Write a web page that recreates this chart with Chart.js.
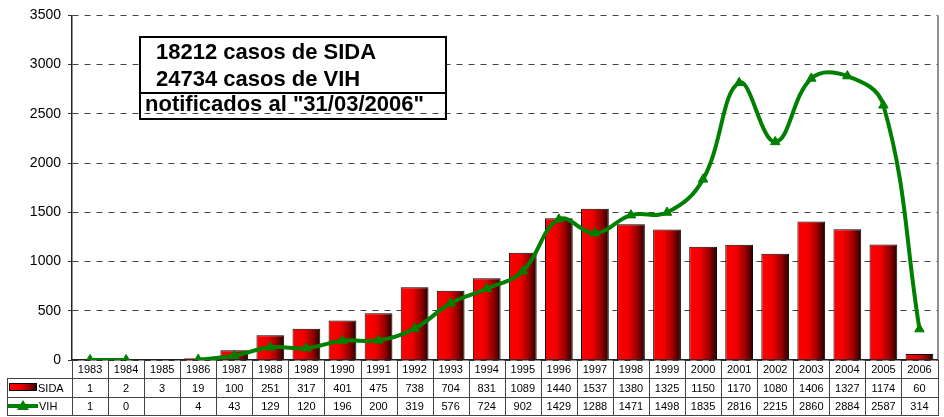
<!DOCTYPE html>
<html>
<head>
<meta charset="utf-8">
<script src="https://cdn.jsdelivr.net/npm/chart.js@4/dist/chart.umd.min.js"></script>
<style>
html,body{margin:0;padding:0;background:#fff;}
#wrap{width:944px;height:417px;position:relative;}
</style>
</head>
<body>
<div id="wrap"><canvas id="c" width="944" height="417"></canvas></div>
<script>
const years = ['1983','1984','1985','1986','1987','1988','1989','1990','1991','1992','1993','1994','1995','1996','1997','1998','1999','2000','2001','2002','2003','2004','2005','2006'];
const sida = [1,2,3,19,100,251,317,401,475,738,704,831,1089,1440,1537,1380,1325,1150,1170,1080,1406,1327,1174,60];
const vih = [1,0,null,4,43,129,120,196,200,319,576,724,902,1429,1288,1471,1498,1835,2816,2215,2860,2884,2587,314];
const seriesNames = ['SIDA','VIH'];
const boxLines = ['18212 casos de SIDA','24734 casos de VIH','notificados al "31/03/2006"'];
const yTicks = [0,500,1000,1500,2000,2500,3000,3500];

const FONT = '"Liberation Sans", Arial, sans-serif';
const GREEN = '#008000';
const BAR_FRAC = 0.77;

function barGradient(ctx, x0, x1){
  const g = ctx.createLinearGradient(x0,0,x1,0);
  g.addColorStop(0,'#ff0000');
  g.addColorStop(0.4,'#f00000');
  g.addColorStop(0.7,'#a00000');
  g.addColorStop(1,'#250000');
  return g;
}

const tablePlugin = {
  id:'table',
  afterDraw(chart){
    const ctx = chart.ctx;
    const xs = chart.scales.x;
    const a = chart.chartArea;
    const colW = (a.right - a.left)/years.length;
    const yTop = a.bottom, r1 = 378, r2 = 397, r3 = 415, legL = 7;
    ctx.save();
    // right border of plot
    ctx.strokeStyle = '#222'; ctx.lineWidth = 1;
    ctx.beginPath(); ctx.moveTo(a.right+0.5, a.top); ctx.lineTo(a.right+0.5, a.bottom); ctx.stroke();
    // table grid
    ctx.strokeStyle = '#444'; ctx.lineWidth = 1;
    ctx.beginPath();
    for(let i=0;i<=years.length;i++){
      const x = Math.round(a.left + i*colW)+0.5;
      ctx.moveTo(x, yTop); ctx.lineTo(x, r3);
    }
    ctx.moveTo(legL+0.5, r1); ctx.lineTo(legL+0.5, r3);
    [r1,r2,r3].forEach(y=>{ctx.moveTo(legL, y+0.5); ctx.lineTo(Math.round(a.right)+1, y+0.5);});
    ctx.stroke();
    // texts
    ctx.fillStyle = '#000';
    ctx.font = '11px ' + FONT;
    ctx.textAlign = 'center'; ctx.textBaseline = 'middle';
    years.forEach((y,i)=>{
      const x = xs.getPixelForValue(i);
      ctx.fillText(y, x, (yTop+r1)/2+1);
      ctx.fillText(String(sida[i]), x, (r1+r2)/2+1);
      if(vih[i]!==null) ctx.fillText(String(vih[i]), x, (r2+r3)/2+1);
    });
    // legend keys
    ctx.textAlign = 'left';
    ctx.fillText(seriesNames[0], 38, (r1+r2)/2+1);
    ctx.fillText(seriesNames[1], 39, (r2+r3)/2+1);
    ctx.fillStyle = barGradient(ctx, 9, 37);
    ctx.fillRect(9.5, 383.5, 27, 7);
    ctx.strokeStyle = '#000';
    ctx.strokeRect(9.5, 383.5, 27, 7);
    const ly = (r2+r3)/2;
    ctx.strokeStyle = GREEN; ctx.lineWidth = 4;
    ctx.beginPath(); ctx.moveTo(8, ly); ctx.lineTo(38, ly); ctx.stroke();
    ctx.fillStyle = GREEN;
    ctx.beginPath(); ctx.moveTo(23, ly-6); ctx.lineTo(29, ly+4); ctx.lineTo(17, ly+4); ctx.closePath(); ctx.fill();
    // annotation box
    ctx.fillStyle = '#fff';
    ctx.fillRect(140, 37, 306, 56);
    ctx.strokeStyle = '#000'; ctx.lineWidth = 2;
    ctx.strokeRect(140, 37, 306, 56);
    ctx.strokeRect(140, 93, 306, 26);
    ctx.fillStyle = '#000';
    ctx.font = 'bold 22px ' + FONT;
    ctx.textAlign = 'left'; ctx.textBaseline = 'alphabetic';
    ctx.fillText(boxLines[0], 156, 59);
    ctx.fillText(boxLines[1], 156, 86);
    ctx.fillText(boxLines[2], 145, 111);
    ctx.restore();
  }
};

new Chart(document.getElementById('c'), {
  data:{
    labels: years,
    datasets:[
      {
        type:'line', label:seriesNames[1], data:vih, order:0,
        borderColor:GREEN, borderWidth:4, tension:0.4, spanGaps:false,
        pointStyle:'triangle', pointRadius:5.5, pointBackgroundColor:GREEN, pointBorderColor:GREEN, pointBorderWidth:1
      },
      {
        type:'bar', label:seriesNames[0], data:sida, order:1,
        categoryPercentage:0.8, barPercentage:BAR_FRAC/0.8,
        borderColor:'#000', borderWidth:1,
        backgroundColor:(c)=>{
          const ch = c.chart;
          if(!ch.chartArea || c.dataIndex===undefined) return '#e00000';
          const xs = ch.scales.x;
          const x = xs.getPixelForValue(c.dataIndex);
          const w = (ch.chartArea.right - ch.chartArea.left)/years.length*BAR_FRAC;
          return barGradient(ch.ctx, x-w/2, x+w/2);
        }
      }
    ]
  },
  options:{
    responsive:false, animation:false,
    layout:{padding:{top:15,bottom:49,right:6,left:0}},
    plugins:{legend:{display:false},tooltip:{enabled:false}},
    scales:{
      x:{
        type:'category', offset:true,
        ticks:{display:false},
        grid:{display:false},
        border:{display:true,color:'#222',width:1.5}
      },
      y:{
        min:0,max:3500,
        afterFit(s){s.width=72;},
        afterBuildTicks(s){s.ticks = yTicks.map(v=>({value:v}));},
        ticks:{padding:7,color:'#000',font:{family:FONT,size:14},callback:(v)=>String(v)},
        grid:{color:'#444',lineWidth:1,tickLength:4,tickBorderDash:[],tickColor:'#333'},
        border:{display:true,color:'#222',width:1.5,dash:[6,6]}
      }
    }
  },
  plugins:[tablePlugin]
});
</script>
</body>
</html>
